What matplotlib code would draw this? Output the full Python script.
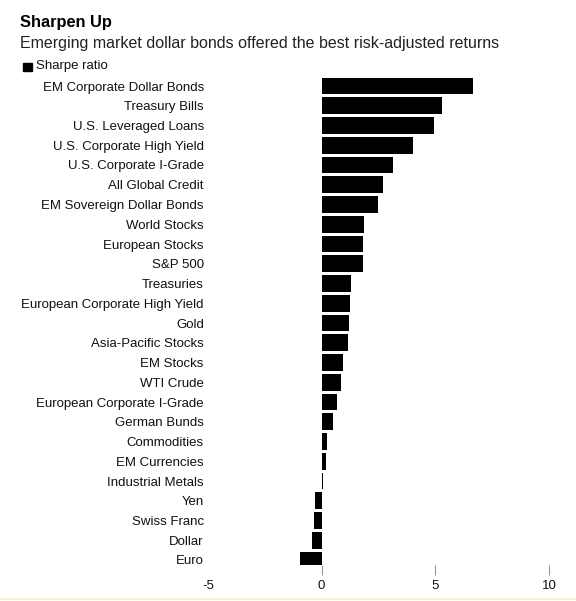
import matplotlib.pyplot as plt
import matplotlib.lines as mlines
import matplotlib.patches as mpatches

plt.rcParams['font.family'] = ['Liberation Sans', 'DejaVu Sans']

categorias = [
    "EM Corporate Dollar Bonds", "Treasury Bills", "U.S. Leveraged Loans",
    "U.S. Corporate High Yield", "U.S. Corporate I-Grade", "All Global Credit",
    "EM Sovereign Dollar Bonds", "World Stocks", "European Stocks", "S&P 500",
    "Treasuries", "European Corporate High Yield", "Gold", "Asia-Pacific Stocks",
    "EM Stocks", "WTI Crude", "European Corporate I-Grade", "German Bunds",
    "Commodities", "EM Currencies", "Industrial Metals", "Yen", "Swiss Franc",
    "Dollar", "Euro",
]
sharpe = [
    6.65, 5.31, 4.92, 4.00, 3.14, 2.70, 2.50, 1.88, 1.80, 1.80,
    1.27, 1.23, 1.20, 1.16, 0.92, 0.85, 0.69, 0.48, 0.24, 0.18,
    0.06, -0.31, -0.35, -0.41, -0.94,
]
ticks = [-5, 0, 5, 10]

W, H = 576, 601
fig = plt.figure(figsize=(W / 100, H / 100), dpi=100)

# ejes: x -5 -> 208px, 10 -> 549px; primera barra y=86, ultima y=560
x0, x1 = 208, 549
paso = (560 - 86) / 24
y_top = 86 - paso / 2
y_bot = 565
ax = fig.add_axes([x0 / W, 1 - y_bot / H, (x1 - x0) / W, (y_bot - y_top) / H])

n = len(categorias)
pos = list(range(n))
ax.barh(pos, sharpe, height=0.85, color='black')
ax.set_ylim(n - 1 + (y_bot - 560) / paso, -0.5)
ax.set_xlim(-5, 10)

ax.set_yticks(pos)
ax.set_yticklabels(categorias, fontsize=9.5, color='#111111')
ax.tick_params(axis='y', length=0, pad=3)
ax.set_xticks(ticks)
ax.set_xticklabels([str(t) for t in ticks], fontsize=9.5, color='#111111')
ax.tick_params(axis='x', length=7, width=0.8, color='#999999', pad=4, direction='out')
# sin marca en -5
ax.xaxis.get_major_ticks()[0].tick1line.set_visible(False)
for s in ax.spines.values():
    s.set_visible(False)

fig.text(20 / W, 1 - 22 / H, "Sharpen Up", fontsize=11.8, fontweight='bold',
         va='center', ha='left', color='black')
fig.text(20 / W, 1 - 43.5 / H,
         "Emerging market dollar bonds offered the best risk-adjusted returns",
         fontsize=11.5, va='center', ha='left', color='#222222')
fig.patches.append(mpatches.Rectangle((22.5 / W, 1 - 71 / H), 9 / W, 8.5 / H,
                                      transform=fig.transFigure, color='black'))
fig.text(36.5 / W, 1 - 66.5 / H, "Sharpe ratio", fontsize=9.5, va='center',
         ha='left', color='#111111')

fig.lines.append(mlines.Line2D([0, 1], [1 - 599 / H, 1 - 599 / H],
                               transform=fig.transFigure, color='#fbefb0', lw=1.2))

fig.savefig('out.png', dpi=100, facecolor='white')
